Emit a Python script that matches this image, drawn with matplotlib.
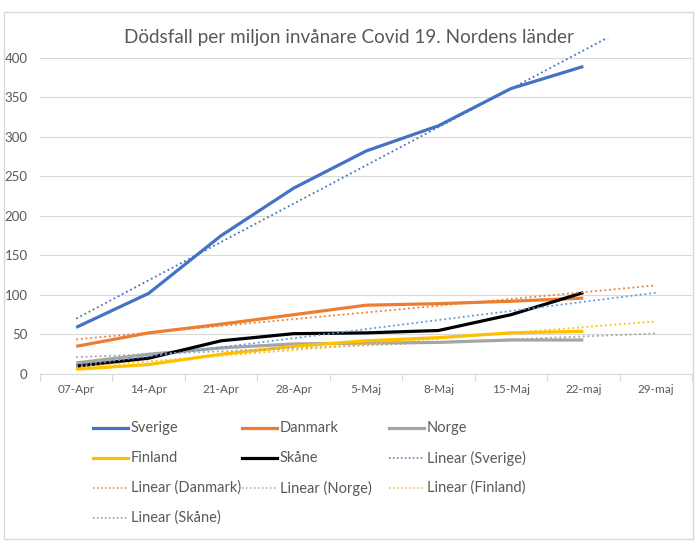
import matplotlib.pyplot as plt
import matplotlib.patches as patches
from matplotlib.lines import Line2D
import numpy as np

# ── Data ──────────────────────────────────────────────────────────────────────
dates    = ['07-Apr', '14-Apr', '21-Apr', '28-Apr', '5-Maj', '8-Maj',
            '15-Maj', '22-maj', '29-maj']
sverige  = [59, 102, 175, 235, 282, 314, 361, 389]
danmark  = [35, 52, 63, 75, 87, 89, 92, 96]
norge    = [14, 25, 33, 38, 39, 40, 43, 43]
finland  = [6, 12, 25, 35, 42, 46, 52, 54]
skane    = [10, 20, 42, 51, 52, 55, 75, 103]

names    = ['Sverige', 'Danmark', 'Norge', 'Finland', 'Skåne']
series   = [sverige, danmark, norge, finland, skane]
colors   = ['#4472C4', '#ED7D31', '#A5A5A5', '#FFC000', '#000000']
trend_c  = ['#4472C4', '#ED7D31', '#A5A5A5', '#FFC000', '#5B9BD5']

TXT  = '#595959'
GRID = '#D9D9D9'
plt.rcParams['font.family'] = ['Lato', 'DejaVu Sans']

# ── Figure ────────────────────────────────────────────────────────────────────
fig = plt.figure(figsize=(7, 5.45), dpi=100)
ax = fig.add_axes([40 / 700, (545 - 374) / 545, 652 / 700, 336 / 545])

x_all = np.arange(len(dates))
for vals, c in zip(series, colors):
    x = np.arange(len(vals))
    ax.plot(x, vals, color=c, lw=2.3, solid_capstyle='butt', zorder=3)

# linear trendlines, forecast one period forward
for vals, c in zip(series, trend_c):
    x = np.arange(len(vals))
    k, m = np.polyfit(x, vals, 1)
    ax.plot(x_all, k * x_all + m, color=c, lw=1.3, ls=(0, (1, 1.6)), zorder=4)

ax.set_xlim(-0.5, len(dates) - 0.5)
ax.set_ylim(0, 425)
ax.set_yticks(range(0, 401, 50))
ax.set_xticks(x_all)
ax.set_xticklabels(dates)
ax.set_xticks(np.arange(-0.5, len(dates), 1), minor=True)
ax.tick_params(axis='y', length=0, labelsize=9.5, labelcolor=TXT, pad=9)
ax.tick_params(axis='x', which='major', length=0, labelsize=8.5,
               labelcolor=TXT, pad=7)
ax.tick_params(axis='x', which='minor', length=5, color=GRID, width=0.8,
               direction='out')
ax.grid(axis='y', color=GRID, lw=0.8)
ax.set_axisbelow(True)
for s in ['top', 'right', 'left']:
    ax.spines[s].set_visible(False)
ax.spines['bottom'].set_color(GRID)
ax.spines['bottom'].set_linewidth(0.8)

fig.text(349 / 700, 1 - 37 / 545,
         'Dödsfall per miljon invånare Covid 19. Nordens länder',
         ha='center', va='center', fontsize=13.6, color=TXT)

# ── Legend (Excel style, row-major) ──────────────────────────────────────────
entries = [(n, c, '-') for n, c in zip(names, colors)] + \
          [(f'Linear ({n})', c, ':') for n, c in zip(names, trend_c)]
col_x = [93, 242, 389]
row_y = [428, 458, 488, 518]
for i, (label, c, style) in enumerate(entries):
    r, col = divmod(i, 3)
    x0 = col_x[col]
    y0 = 1 - row_y[r] / 545
    if style == '-':
        ln = Line2D([x0 / 700, (x0 + 35) / 700], [y0, y0], color=c, lw=2.3,
                    transform=fig.transFigure)
    else:
        ln = Line2D([x0 / 700, (x0 + 35) / 700], [y0, y0], color=c, lw=1.1,
                    ls=(0, (1, 1.6)), transform=fig.transFigure)
    fig.add_artist(ln)
    fig.text((x0 + 38) / 700, y0, label, ha='left', va='center',
             fontsize=10.5, color=TXT)

# chart frame
fig.add_artist(patches.Rectangle((4 / 700, 6 / 545), 689 / 700, 527 / 545,
                                 transform=fig.transFigure, fill=False,
                                 edgecolor=GRID, lw=1))

fig.savefig('out.png', dpi=100)
